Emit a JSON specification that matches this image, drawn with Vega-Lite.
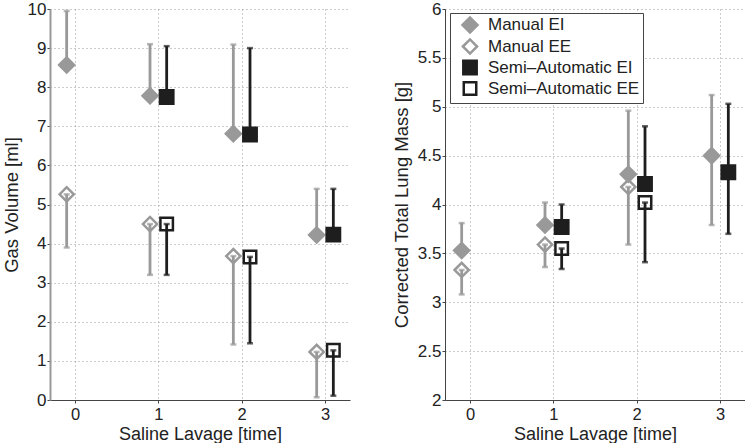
{
  "$schema": "https://vega.github.io/schema/vega-lite/v6.json",
  "background": "white",
  "padding": {"left": 2, "top": 0, "right": 0, "bottom": 0},
  "config": {
    "view": {"stroke": null},
    "font": "Liberation Sans",
    "axis": {
      "labelFont": "Liberation Sans", "labelFontSize": 17, "labelColor": "#222",
      "titleFont": "Liberation Sans", "titleFontSize": 18.5, "titleFontWeight": "normal", "titleColor": "#222",
      "domainColor": "#444", "tickColor": "#444", "tickSize": 3,
      "gridColor": "#999", "gridDash": [1, 3], "gridWidth": 1, "labelOverlap": false
    },
    "axisX": {"labelPadding": 3, "titlePadding": 3, "labelFontSize": 16.5, "titleFontSize": 18},
    "axisY": {"labelPadding": 1, "titlePadding": 6},
    "legend": {
      "orient": "none", "legendX": 5, "legendY": 4, "padding": 3, "strokeColor": "#444", "fillColor": "white",
      "labelFont": "Liberation Sans", "labelFontSize": 17, "labelColor": "#222", "labelOffset": 9,
      "rowPadding": -7, "symbolOffset": 8, "symbolStrokeWidth": 2.5, "cornerRadius": 0, "titlePadding": 0
    }
  },
  "datasets": {
    "left": [
      {"series": "Manual EI", "grp": "Manual", "time": -0.1, "v": 8.57, "lo": 8.57, "hi": 9.95},
      {"series": "Manual EI", "grp": "Manual", "time": 0.9, "v": 7.78, "lo": 7.78, "hi": 9.1},
      {"series": "Manual EI", "grp": "Manual", "time": 1.9, "v": 6.81, "lo": 6.81, "hi": 9.09},
      {"series": "Manual EI", "grp": "Manual", "time": 2.9, "v": 4.22, "lo": 4.22, "hi": 5.4},
      {"series": "Manual EE", "grp": "Manual", "time": -0.1, "v": 5.26, "lo": 3.9, "hi": 5.26},
      {"series": "Manual EE", "grp": "Manual", "time": 0.9, "v": 4.5, "lo": 3.2, "hi": 4.5},
      {"series": "Manual EE", "grp": "Manual", "time": 1.9, "v": 3.68, "lo": 1.42, "hi": 3.68},
      {"series": "Manual EE", "grp": "Manual", "time": 2.9, "v": 1.23, "lo": 0.07, "hi": 1.23},
      {"series": "Semi–Automatic EI", "grp": "Semi", "time": 1.1, "v": 7.75, "lo": 7.75, "hi": 9.05},
      {"series": "Semi–Automatic EI", "grp": "Semi", "time": 2.1, "v": 6.79, "lo": 6.79, "hi": 9.0},
      {"series": "Semi–Automatic EI", "grp": "Semi", "time": 3.1, "v": 4.23, "lo": 4.23, "hi": 5.4},
      {"series": "Semi–Automatic EE", "grp": "Semi", "time": 1.1, "v": 4.5, "lo": 3.2, "hi": 4.5},
      {"series": "Semi–Automatic EE", "grp": "Semi", "time": 2.1, "v": 3.66, "lo": 1.45, "hi": 3.66},
      {"series": "Semi–Automatic EE", "grp": "Semi", "time": 3.1, "v": 1.27, "lo": 0.11, "hi": 1.27}
    ],
    "right": [
      {"series": "Manual EI", "grp": "Manual", "time": -0.1, "v": 3.53, "lo": 3.53, "hi": 3.81},
      {"series": "Manual EI", "grp": "Manual", "time": 0.9, "v": 3.79, "lo": 3.79, "hi": 4.02},
      {"series": "Manual EI", "grp": "Manual", "time": 1.9, "v": 4.31, "lo": 4.31, "hi": 4.96},
      {"series": "Manual EI", "grp": "Manual", "time": 2.9, "v": 4.5, "lo": 3.79, "hi": 5.12},
      {"series": "Manual EE", "grp": "Manual", "time": -0.1, "v": 3.33, "lo": 3.08, "hi": 3.33},
      {"series": "Manual EE", "grp": "Manual", "time": 0.9, "v": 3.59, "lo": 3.36, "hi": 3.59},
      {"series": "Manual EE", "grp": "Manual", "time": 1.9, "v": 4.18, "lo": 3.59, "hi": 4.18},
      {"series": "Semi–Automatic EI", "grp": "Semi", "time": 1.1, "v": 3.77, "lo": 3.77, "hi": 4.0},
      {"series": "Semi–Automatic EI", "grp": "Semi", "time": 2.1, "v": 4.21, "lo": 4.21, "hi": 4.8},
      {"series": "Semi–Automatic EI", "grp": "Semi", "time": 3.1, "v": 4.33, "lo": 3.7, "hi": 5.03},
      {"series": "Semi–Automatic EE", "grp": "Semi", "time": 1.1, "v": 3.55, "lo": 3.34, "hi": 3.55},
      {"series": "Semi–Automatic EE", "grp": "Semi", "time": 2.1, "v": 4.02, "lo": 3.41, "hi": 4.02}
    ]
  },
  "hconcat": [
    {
      "width": 300, "height": 391,
      "data": {"name": "left"},
      "layer": [
        {
          "mark": {"type": "rule", "strokeWidth": 2.8},
          "encoding": {
            "x": {"field": "time", "type": "quantitative", "scale": {"domain": [-0.3, 3.3], "nice": false, "zero": false},
                  "axis": {"values": [0, 1, 2, 3], "format": "d", "title": "Saline Lavage [time]", "grid": true}},
            "y": {"field": "lo", "type": "quantitative", "scale": {"domain": [0, 10], "nice": false, "zero": false},
                  "axis": {"values": [0,1,2,3,4,5,6,7,8,9,10], "tickCount": 11, "format": "d", "title": "Gas Volume [ml]", "grid": true, "domainColor": "#999", "domainWidth": 2}},
            "y2": {"field": "hi"},
            "color": {"field": "grp", "type": "nominal", "scale": {"domain": ["Manual", "Semi"], "range": ["#999999", "#1e1e1e"]}, "legend": null}
          }
        },
        {
          "mark": {"type": "tick", "orient": "horizontal", "size": 6, "thickness": 2.5},
          "encoding": {
            "x": {"field": "time", "type": "quantitative"},
            "y": {"field": "lo", "type": "quantitative"},
            "color": {"field": "grp", "type": "nominal", "legend": null}
          }
        },
        {
          "mark": {"type": "tick", "orient": "horizontal", "size": 6, "thickness": 2.5},
          "encoding": {
            "x": {"field": "time", "type": "quantitative"},
            "y": {"field": "hi", "type": "quantitative"},
            "color": {"field": "grp", "type": "nominal", "legend": null}
          }
        },
        {
          "mark": {"type": "point", "strokeWidth": 2.5, "opacity": 1},
          "encoding": {
            "x": {"field": "time", "type": "quantitative"},
            "y": {"field": "v", "type": "quantitative"},
            "shape": {"field": "series", "type": "nominal", "scale": {"domain": ["Manual EI", "Manual EE", "Semi–Automatic EI", "Semi–Automatic EE"], "range": ["diamond", "diamond", "square", "square"]}, "legend": null},
            "stroke": {"field": "series", "type": "nominal", "scale": {"domain": ["Manual EI", "Manual EE", "Semi–Automatic EI", "Semi–Automatic EE"], "range": ["#999999", "#999999", "#1e1e1e", "#1e1e1e"]}, "legend": null},
            "fill": {"field": "series", "type": "nominal", "scale": {"domain": ["Manual EI", "Manual EE", "Semi–Automatic EI", "Semi–Automatic EE"], "range": ["#999999", "transparent", "#1e1e1e", "transparent"]}, "legend": null},
            "size": {"field": "series", "type": "nominal", "scale": {"domain": ["Manual EI", "Manual EE", "Semi–Automatic EI", "Semi–Automatic EE"], "range": [225, 156, 110, 110]}, "legend": null}
          }
        }
      ]
    },
    {
      "width": 300, "height": 391,
      "data": {"name": "right"},
      "layer": [
        {
          "mark": {"type": "rule", "strokeWidth": 2.8},
          "encoding": {
            "x": {"field": "time", "type": "quantitative", "scale": {"domain": [-0.3, 3.3], "nice": false, "zero": false},
                  "axis": {"values": [0, 1, 2, 3], "format": "d", "title": "Saline Lavage [time]", "grid": true}},
            "y": {"field": "lo", "type": "quantitative", "scale": {"domain": [2, 6], "nice": false, "zero": false},
                  "axis": {"values": [2, 2.5, 3, 3.5, 4, 4.5, 5, 5.5, 6], "format": "~g", "title": "Corrected Total Lung Mass [g]", "grid": true}},
            "y2": {"field": "hi"},
            "color": {"field": "grp", "type": "nominal", "scale": {"domain": ["Manual", "Semi"], "range": ["#999999", "#1e1e1e"]}, "legend": null}
          }
        },
        {
          "mark": {"type": "tick", "orient": "horizontal", "size": 6, "thickness": 2.5},
          "encoding": {
            "x": {"field": "time", "type": "quantitative"},
            "y": {"field": "lo", "type": "quantitative"},
            "color": {"field": "grp", "type": "nominal", "legend": null}
          }
        },
        {
          "mark": {"type": "tick", "orient": "horizontal", "size": 6, "thickness": 2.5},
          "encoding": {
            "x": {"field": "time", "type": "quantitative"},
            "y": {"field": "hi", "type": "quantitative"},
            "color": {"field": "grp", "type": "nominal", "legend": null}
          }
        },
        {
          "mark": {"type": "point", "strokeWidth": 2.5, "opacity": 1},
          "encoding": {
            "x": {"field": "time", "type": "quantitative"},
            "y": {"field": "v", "type": "quantitative"},
            "shape": {"field": "series", "type": "nominal", "scale": {"domain": ["Manual EI", "Manual EE", "Semi–Automatic EI", "Semi–Automatic EE"], "range": ["diamond", "diamond", "square", "square"]}, "legend": {"title": null}},
            "stroke": {"field": "series", "type": "nominal", "scale": {"domain": ["Manual EI", "Manual EE", "Semi–Automatic EI", "Semi–Automatic EE"], "range": ["#999999", "#999999", "#1e1e1e", "#1e1e1e"]}, "legend": {"title": null}},
            "fill": {"field": "series", "type": "nominal", "scale": {"domain": ["Manual EI", "Manual EE", "Semi–Automatic EI", "Semi–Automatic EE"], "range": ["#999999", "transparent", "#1e1e1e", "transparent"]}, "legend": {"title": null}},
            "size": {"field": "series", "type": "nominal", "scale": {"domain": ["Manual EI", "Manual EE", "Semi–Automatic EI", "Semi–Automatic EE"], "range": [225, 156, 110, 110]}, "legend": {"title": null}}
          }
        }
      ]
    }
  ],
  "spacing": 42,
  "resolve": {"scale": {"shape": "independent", "stroke": "independent", "fill": "independent", "size": "independent", "color": "independent"}}
}
